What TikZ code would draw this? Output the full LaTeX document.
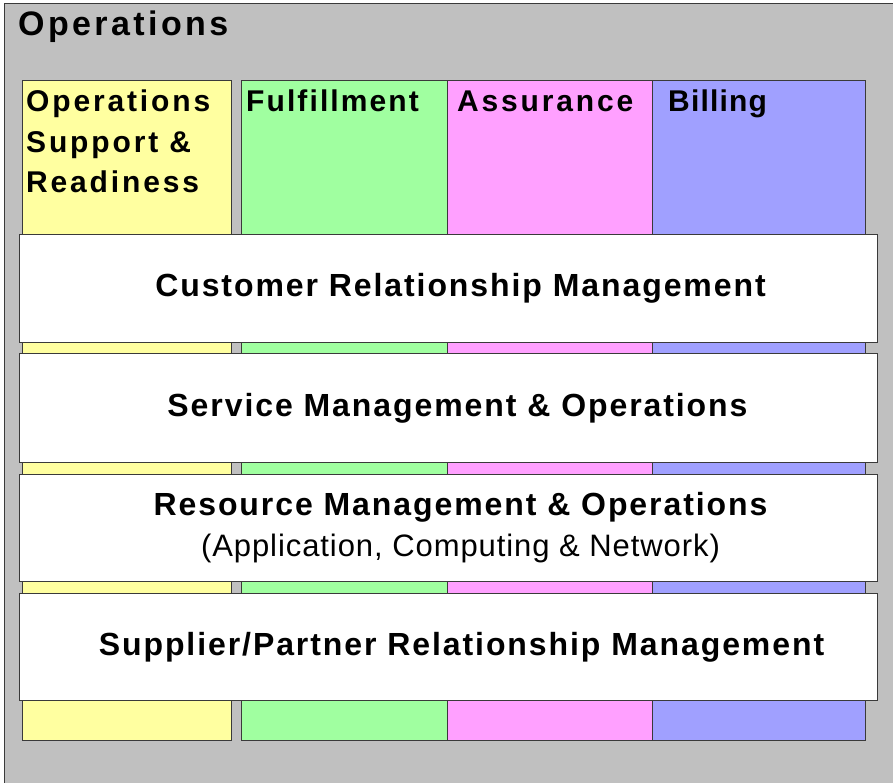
\documentclass[tikz,border=0pt]{standalone}
\usepackage{fontspec}
\setmainfont{Liberation Sans}
\newfontfamily\titlefont[LetterSpace=10]{Liberation Sans}
\newfontfamily\headfont[LetterSpace=9.5]{Liberation Sans}
\newfontfamily\headfontb[LetterSpace=7]{Liberation Sans}
\newfontfamily\headfontc[LetterSpace=4]{Liberation Sans}
\newfontfamily\bandfont[LetterSpace=6]{Liberation Sans}
\newfontfamily\subfont[LetterSpace=3]{Liberation Sans}
\definecolor{bggrey}{HTML}{C0C0C0}
\definecolor{edge}{HTML}{3A3A3A}
\definecolor{colyellow}{HTML}{FFFFA0}
\definecolor{colgreen}{HTML}{A0FFA0}
\definecolor{colpink}{HTML}{FFA0FF}
\definecolor{colblue}{HTML}{A0A0FF}
\tikzset{
  colbox/.style={draw=edge, line width=1pt, anchor=north west, inner sep=0pt, minimum height=660pt},
  bandbox/.style={draw=edge, line width=1pt, fill=white, anchor=north west, inner sep=0pt, minimum width=858pt},
  bandtext/.style={inner sep=0pt, align=center, font=\bandfont\bfseries\fontsize{32}{41}\selectfont},
  headtext/.style={anchor=base west, inner sep=0pt, font=\headfont\bfseries\fontsize{30}{40.5}\selectfont, align=left},
}
\begin{document}
\begin{tikzpicture}[x=1pt,y=-1pt]
\useasboundingbox (0,0) rectangle (893,783);
\clip (0,0) rectangle (893,783);
\fill[white] (0,0) rectangle (893,783);
\node[draw=edge, line width=1pt, fill=bggrey, anchor=north west, inner sep=0pt, minimum width=920pt, minimum height=820pt] (frame) at (4,3) {};
\node[anchor=base west, inner sep=0pt, font=\titlefont\bfseries\fontsize{34}{40}\selectfont] (title) at (18,36) {Operations};
% columns
\node[colbox, fill=colyellow, minimum width=209pt] (osr) at (22,80) {};
\node[colbox, fill=colgreen, minimum width=206pt] (ful) at (241,80) {};
\node[colbox, fill=colpink, minimum width=205pt] (ass) at (447,80) {};
\node[colbox, fill=colblue, minimum width=213pt] (bil) at (652,80) {};
\node[headtext, anchor=north west] (osrt) at (26,90) {Operations\\Support \&\\Readiness};
\node[headtext, font=\headfontb\bfseries\fontsize{30}{40.5}\selectfont] (fult) at (246,112) {Fulfillment};
\node[headtext] (asst) at (457,112) {Assurance};
\node[headtext, font=\headfontc\bfseries\fontsize{30}{40.5}\selectfont] (bilt) at (668,112) {Billing};
% bands
\node[bandbox, minimum height=108pt] (crm) at (19,234) {};
\node[bandbox, minimum height=109pt] (smo) at (19,353) {};
\node[bandbox, minimum height=107pt] (rmo) at (19,474) {};
\node[bandbox, minimum height=107pt] (sprm) at (19,593) {};
\node[bandtext] (crmt) at ([xshift=12pt]crm.center) {Customer Relationship Management};
\node[bandtext] (smot) at ([xshift=9pt]smo.center) {Service Management \& Operations};
\node[bandtext] (rmot) at ([xshift=12pt]rmo.center) {Resource Management \& Operations\\{\subfont\mdseries\fontsize{31}{41}\selectfont (Application, Computing \& Network)}};
\node[bandtext] (sprmt) at ([xshift=13pt]sprm.center) {Supplier/Partner Relationship Management};
\end{tikzpicture}
\end{document}
